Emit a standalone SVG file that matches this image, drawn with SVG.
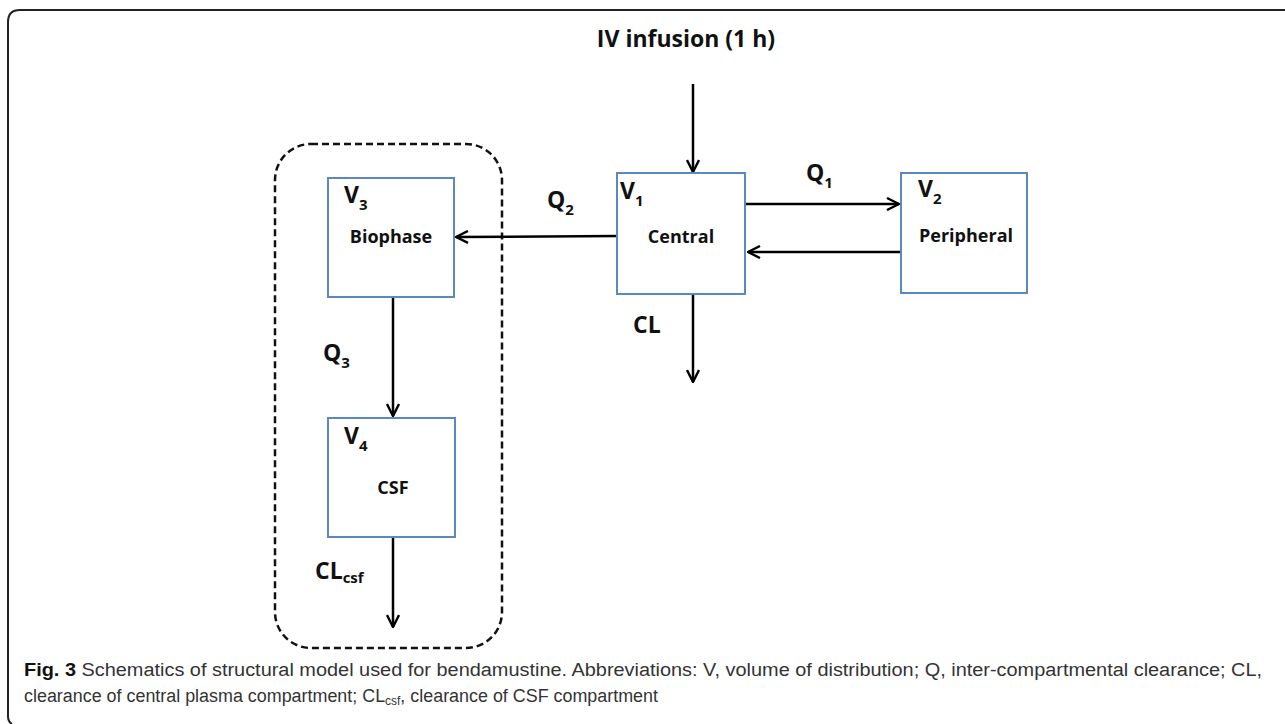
<svg xmlns="http://www.w3.org/2000/svg" width="1285" height="724" viewBox="0 0 1285 724">
<style>
.box{fill:#fff;stroke:#5b88c0;stroke-width:2}
.ar{fill:none;stroke:#000;stroke-width:2.5}
.lbl{font-family:"Open Sans","Noto Sans",sans-serif;font-weight:bold;fill:#111}
.big{font-size:23px}
.mid{font-size:18px}
.sub{font-size:15px}
.cap{font-family:"Liberation Sans",Arial,sans-serif;font-size:18px;fill:#333}
</style>
<defs>
<marker id="ah" viewBox="0 0 14 14" refX="13" refY="7" markerWidth="14" markerHeight="14" markerUnits="userSpaceOnUse" orient="auto">
<path d="M1,1 L13,7 L1,13" fill="none" stroke="#000" stroke-width="2.4"/>
</marker>
</defs>
<rect width="1285" height="724" fill="#fff"/>
<path d="M1285,10 H20 Q8,10 8,22 V716 Q8,722 12,724" fill="none" stroke="#222" stroke-width="2"/>
<rect x="275" y="144" width="227" height="504" rx="36" ry="36" fill="none" stroke="#111" stroke-width="2.5" stroke-dasharray="7,4"/>
<g id="connectors">
<line class="ar" x1="693" y1="84" x2="693" y2="172" marker-end="url(#ah)"/>
<line class="ar" x1="617" y1="236" x2="456" y2="237" marker-end="url(#ah)"/>
<line class="ar" x1="745" y1="204" x2="899" y2="204" marker-end="url(#ah)"/>
<line class="ar" x1="901" y1="252" x2="748" y2="252" marker-end="url(#ah)"/>
<line class="ar" x1="693" y1="294" x2="693" y2="382" marker-end="url(#ah)"/>
<line class="ar" x1="393" y1="297" x2="393" y2="416" marker-end="url(#ah)"/>
<line class="ar" x1="393" y1="537" x2="393" y2="627" marker-end="url(#ah)"/>
</g>
<g id="iv"><text class="lbl big" x="686" y="47" text-anchor="middle">IV infusion (1 h)</text></g>
<g id="central">
<rect class="box" x="617" y="173" width="128" height="121"/>
<text class="lbl big" x="620" y="199">V<tspan class="sub" dy="7">1</tspan></text>
<text class="lbl mid" x="681" y="243" text-anchor="middle">Central</text>
</g>
<g id="peripheral">
<rect class="box" x="901" y="173" width="126" height="120"/>
<text class="lbl big" x="918" y="197">V<tspan class="sub" dy="7">2</tspan></text>
<text class="lbl mid" x="966" y="242" text-anchor="middle">Peripheral</text>
</g>
<g id="biophase">
<rect class="box" x="328" y="178" width="126" height="119"/>
<text class="lbl big" x="344" y="203">V<tspan class="sub" dy="7">3</tspan></text>
<text class="lbl mid" x="391" y="243" text-anchor="middle">Biophase</text>
</g>
<g id="csf">
<rect class="box" x="328" y="418" width="127" height="119"/>
<text class="lbl big" x="344" y="444">V<tspan class="sub" dy="7">4</tspan></text>
<text class="lbl mid" x="393" y="494" text-anchor="middle">CSF</text>
</g>
<g id="labels">
<text class="lbl big" x="806" y="181">Q<tspan class="sub" dy="7">1</tspan></text>
<text class="lbl big" x="547" y="208">Q<tspan class="sub" dy="7">2</tspan></text>
<text class="lbl big" x="323" y="361">Q<tspan class="sub" dy="7">3</tspan></text>
<text class="lbl big" x="633" y="333">CL</text>
<text class="lbl big" x="315" y="579">CL<tspan class="sub" dy="4">csf</tspan></text>
</g>
<g id="caption">
<text class="cap" x="24" y="676" textLength="1238" lengthAdjust="spacingAndGlyphs"><tspan font-weight="bold" fill="#111">Fig. 3</tspan> Schematics of structural model used for bendamustine. Abbreviations: V, volume of distribution; Q, inter-compartmental clearance; CL,</text>
<text class="cap" x="24" y="702" textLength="634" lengthAdjust="spacingAndGlyphs">clearance of central plasma compartment; CL<tspan font-size="12" dy="3">csf</tspan><tspan dy="-3">, clearance of CSF compartment</tspan></text>
</g>
</svg>
